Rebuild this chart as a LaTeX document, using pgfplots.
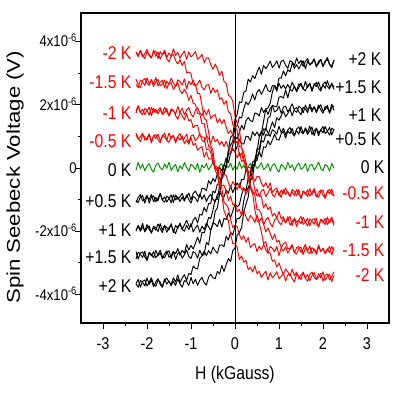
\documentclass[border=0pt]{standalone}
\usepackage{pgfplots}
\pgfplotsset{compat=1.18}
\usepackage{pgfplotstable}
\usepackage{fontspec}
\setmainfont{Liberation Sans}[FakeStretch=0.85]
\newfontfamily\ylabfont{Liberation Sans}[FakeStretch=1.2]
\definecolor{sred}{RGB}{255,0,0}
\definecolor{sgreen}{RGB}{0,150,0}
\newcommand\lab{\fontsize{18.5}{20}\selectfont}

% one row per sweep branch, values in units of 1e-6 V
\pgfplotstableread[header=false]{
x -2.25 -2.20 -2.15 -2.10 -2.05 -2.00 -1.95 -1.90 -1.85 -1.80 -1.75 -1.70 -1.65 -1.60 -1.55 -1.50 -1.45 -1.40 -1.35 -1.30 -1.25 -1.20 -1.15 -1.10 -1.05 -1.00 -0.95 -0.90 -0.85 -0.80 -0.75 -0.70 -0.65 -0.60 -0.55 -0.50 -0.45 -0.40 -0.35 -0.30 -0.25 -0.20 -0.15 -0.10 -0.05 0.00 0.05 0.10 0.15 0.20 0.25 0.30 0.35 0.40 0.45 0.50 0.55 0.60 0.65 0.70 0.75 0.80 0.85 0.90 0.95 1.00 1.05 1.10 1.15 1.20 1.25 1.30 1.35 1.40 1.45 1.50 1.55 1.60 1.65 1.70 1.75 1.80 1.85 1.90 1.95 2.00 2.05 2.10 2.15 2.20 2.25
R2a 3.65 3.52 3.72 3.57 3.46 3.67 3.60 3.48 3.73 3.53 3.67 3.44 3.58 3.65 3.45 3.35 3.54 3.59 3.40 3.29 3.43 3.24 3.37 3.01 3.03 2.99 2.62 2.65 2.36 2.35 1.97 1.58 1.51 1.14 0.70 0.55 -0.09 -0.20 -0.65 -0.84 -1.35 -1.53 -1.67 -2.11 -2.38 -2.40 -2.51 -2.89 -2.78 -2.98 -2.92 -3.22 -3.13 -3.29 -3.09 -3.34 -3.26 -3.46 -3.35 -3.26 -3.54 -3.31 -3.47 -3.39 -3.28 -3.50 -3.43 -3.33 -3.57 -3.38 -3.34 -3.50 -3.60 -3.36 -3.42 -3.53 -3.29 -3.47 -3.37 -3.56 -3.40 -3.31 -3.51 -3.46 -3.33 -3.58 -3.39 -3.35 -3.54 -3.43 -3.28
R2b 3.67 3.57 3.71 3.51 3.62 3.75 3.54 3.48 3.65 3.70 3.46 3.68 3.58 3.73 3.50 3.64 3.53 3.77 3.56 3.66 3.47 3.59 3.70 3.43 3.67 3.51 3.58 3.68 3.44 3.50 3.59 3.33 3.48 3.48 3.27 3.12 3.29 3.14 2.93 3.06 2.74 2.68 2.30 2.25 2.11 1.64 1.40 1.22 0.64 0.48 0.17 -0.37 -0.61 -0.79 -1.31 -1.66 -1.74 -2.02 -2.39 -2.33 -2.65 -2.69 -2.95 -2.91 -3.13 -3.00 -3.20 -3.36 -3.19 -3.28 -3.42 -3.20 -3.41 -3.29 -3.51 -3.37 -3.31 -3.49 -3.58 -3.36 -3.29 -3.46 -3.53 -3.34 -3.48 -3.28 -3.55 -3.43 -3.36 -3.59 -3.40
R15a 2.64 2.54 2.78 2.72 2.61 2.85 2.67 2.77 2.58 2.71 2.80 2.60 2.65 2.78 2.51 2.68 2.70 2.49 2.58 2.70 2.45 2.35 2.49 2.37 2.14 2.30 2.04 2.02 1.73 1.71 1.40 1.40 1.03 0.68 0.65 0.34 -0.05 -0.07 -0.53 -0.63 -1.08 -1.15 -1.27 -1.63 -1.88 -1.80 -1.85 -2.10 -2.26 -2.14 -2.35 -2.20 -2.51 -2.43 -2.39 -2.64 -2.47 -2.59 -2.41 -2.58 -2.70 -2.48 -2.54 -2.65 -2.48 -2.77 -2.53 -2.63 -2.49 -2.69 -2.58 -2.45 -2.66 -2.72 -2.55 -2.50 -2.74 -2.52 -2.62 -2.47 -2.70 -2.56 -2.67 -2.43 -2.64 -2.54 -2.71 -2.59 -2.48 -2.75 -2.51
R15b 2.81 2.63 2.54 2.76 2.83 2.68 2.61 2.80 2.66 2.86 2.59 2.71 2.78 2.55 2.74 2.64 2.84 2.69 2.57 2.79 2.73 2.62 2.82 2.50 2.74 2.64 2.78 2.58 2.67 2.78 2.55 2.47 2.62 2.64 2.36 2.54 2.39 2.47 2.17 2.22 2.01 2.13 1.78 1.72 1.37 1.29 1.18 0.67 0.67 0.27 0.08 -0.08 -0.56 -0.73 -0.85 -1.31 -1.32 -1.46 -1.78 -2.02 -1.90 -2.06 -2.26 -2.09 -2.34 -2.29 -2.52 -2.40 -2.34 -2.56 -2.53 -2.42 -2.69 -2.52 -2.48 -2.67 -2.56 -2.41 -2.65 -2.71 -2.52 -2.57 -2.73 -2.48 -2.64 -2.54 -2.69 -2.55 -2.68 -2.48 -2.63
R1a 1.73 1.97 1.76 1.86 1.69 1.81 1.92 1.65 1.89 1.75 1.83 1.91 1.69 1.76 1.88 1.64 1.81 1.83 1.66 1.54 1.75 1.66 1.52 1.72 1.49 1.53 1.27 1.35 1.35 1.04 0.98 0.97 0.58 0.61 0.49 0.13 0.06 0.03 -0.35 -0.57 -0.54 -0.73 -1.03 -0.89 -1.16 -1.15 -1.38 -1.31 -1.50 -1.35 -1.54 -1.68 -1.50 -1.58 -1.72 -1.48 -1.70 -1.58 -1.79 -1.64 -1.56 -1.74 -1.86 -1.64 -1.57 -1.72 -1.79 -1.60 -1.74 -1.54 -1.81 -1.69 -1.62 -1.85 -1.66 -1.76 -1.56 -1.71 -1.83 -1.61 -1.67 -1.78 -1.58 -1.87 -1.63 -1.73 -1.59 -1.79 -1.68 -1.55 -1.76
R1b 1.81 1.96 1.75 1.69 1.88 1.83 1.67 1.92 1.76 1.86 1.71 1.85 1.72 1.92 1.77 1.66 1.87 1.82 1.70 1.95 1.75 1.89 1.68 1.83 1.91 1.70 1.61 1.83 1.90 1.75 1.66 1.83 1.68 1.86 1.56 1.65 1.69 1.42 1.56 1.40 1.53 1.30 1.09 1.20 1.03 0.78 0.84 0.39 0.47 0.20 0.16 -0.22 -0.28 -0.31 -0.68 -0.88 -0.85 -0.91 -1.26 -1.13 -1.31 -1.23 -1.52 -1.43 -1.58 -1.37 -1.61 -1.54 -1.73 -1.62 -1.53 -1.82 -1.58 -1.72 -1.64 -1.53 -1.78 -1.71 -1.59 -1.83 -1.64 -1.60 -1.76 -1.86 -1.62 -1.68 -1.79 -1.55 -1.73 -1.63 -1.82
R05a 1.10 0.95 0.83 1.05 0.99 0.88 1.08 0.79 1.03 0.93 1.07 0.87 0.98 1.11 0.87 0.81 0.98 1.03 0.79 0.99 0.88 1.02 0.77 0.89 0.75 0.96 0.72 0.78 0.56 0.63 0.68 0.34 0.51 0.29 0.29 0.31 0.00 -0.02 0.01 -0.31 -0.20 -0.23 -0.46 -0.62 -0.43 -0.54 -0.69 -0.48 -0.69 -0.62 -0.83 -0.69 -0.61 -0.82 -0.79 -0.66 -0.91 -0.72 -0.68 -0.90 -0.79 -0.64 -0.85 -0.91 -0.72 -0.77 -0.93 -0.68 -0.84 -0.74 -0.89 -0.75 -0.88 -0.68 -0.83 -0.94 -0.73 -0.78 -0.90 -0.65 -0.85 -0.71 -0.92 -0.77 -0.69 -0.87 -0.96 -0.74 -0.67 -0.82 -0.89
R05b 1.05 0.91 0.99 1.10 0.88 0.95 1.07 0.83 1.02 1.06 0.90 0.80 1.04 0.98 0.87 1.11 0.93 1.03 0.84 1.00 1.09 0.89 0.94 1.07 0.82 1.01 1.05 0.86 0.94 1.09 0.88 0.82 1.01 0.94 0.77 1.01 0.83 0.91 0.73 0.84 0.68 0.84 0.64 0.48 0.63 0.51 0.32 0.49 0.21 0.26 -0.04 0.02 0.01 -0.25 -0.42 -0.27 -0.27 -0.48 -0.60 -0.46 -0.64 -0.47 -0.77 -0.68 -0.63 -0.88 -0.70 -0.81 -0.63 -0.78 -0.90 -0.68 -0.74 -0.88 -0.68 -0.97 -0.73 -0.83 -0.69 -0.89 -0.78 -0.65 -0.86 -0.92 -0.75 -0.70 -0.94 -0.72 -0.82 -0.67 -0.90
G -0.07 0.18 -0.02 0.12 -0.09 0.06 0.14 -0.04 -0.13 0.09 0.16 0.01 -0.06 0.13 -0.01 0.19 -0.08 0.04 0.11 -0.12 0.07 -0.03 0.17 0.02 -0.10 0.12 0.06 -0.05 0.15 -0.14 0.10 0.00 0.14 -0.06 0.05 0.18 -0.03 -0.09 0.08 0.13 -0.11 0.11 0.01 0.16 -0.07 0.07 -0.04 0.20 -0.01 0.09 -0.08 0.04 0.15 -0.12 0.12 -0.02 0.06 0.17 -0.05 0.02 0.14 -0.10 0.09 0.13 -0.03 -0.13 0.11 0.05 -0.06 0.18 0.00 0.10 -0.09 0.07 0.16 -0.04 0.01 0.14 -0.11 0.08 0.12 -0.07 0.04 0.19 -0.02 -0.08 0.11 0.06 -0.10 0.15 -0.01
B05a -1.03 -1.09 -0.92 -0.87 -1.11 -0.89 -0.99 -0.84 -1.07 -0.93 -1.04 -0.80 -1.01 -0.91 -1.08 -0.96 -0.85 -1.09 -0.85 -0.99 -0.91 -0.80 -1.00 -0.92 -0.79 -1.01 -0.80 -0.73 -0.86 -0.92 -0.64 -0.65 -0.71 -0.40 -0.51 -0.33 -0.43 -0.17 0.02 -0.08 0.08 0.32 0.17 0.46 0.60 0.50 0.69 0.91 0.77 0.76 1.00 0.99 0.87 1.15 1.02 1.14 1.01 1.16 1.04 1.26 1.11 1.00 1.21 1.16 1.07 1.32 1.12 1.26 1.05 1.20 1.28 1.10 1.01 1.23 1.30 1.15 1.08 1.27 1.13 1.33 1.06 1.18 1.25 1.02 1.21 1.11 1.31 1.16 1.04 1.26 1.20
B05b -1.09 -0.93 -0.84 -1.04 -0.99 -0.86 -1.11 -0.92 -0.88 -1.07 -0.96 -0.81 -1.02 -1.08 -0.89 -0.94 -1.10 -0.85 -1.01 -0.91 -1.06 -0.92 -1.05 -0.85 -1.00 -1.11 -0.90 -0.95 -1.07 -0.82 -0.99 -0.85 -1.06 -0.91 -0.83 -0.99 -1.07 -0.84 -0.75 -0.88 -0.92 -0.70 -0.80 -0.56 -0.78 -0.61 -0.47 -0.63 -0.36 -0.37 -0.07 -0.12 -0.14 0.19 0.24 0.23 0.53 0.34 0.67 0.65 0.86 0.73 0.89 1.07 0.90 0.88 1.08 1.16 0.94 1.18 1.09 1.25 1.04 1.18 1.07 1.31 1.10 1.23 1.06 1.18 1.29 1.02 1.26 1.12 1.20 1.31 1.09 1.16 1.28 1.04 1.23
B1a -2.00 -1.81 -1.95 -1.75 -2.02 -1.90 -1.83 -2.06 -1.87 -1.97 -1.77 -1.92 -2.04 -1.82 -1.88 -1.96 -1.76 -2.05 -1.81 -1.91 -1.74 -1.93 -1.80 -1.65 -1.83 -1.86 -1.65 -1.56 -1.74 -1.46 -1.49 -1.25 -1.38 -1.13 -1.11 -0.73 -0.78 -0.51 -0.51 -0.20 0.10 0.02 0.45 0.48 0.73 1.00 0.92 1.12 1.35 1.21 1.49 1.60 1.50 1.46 1.74 1.72 1.64 1.91 1.75 1.87 1.69 1.88 1.97 1.77 1.82 1.95 1.73 1.92 1.96 1.77 1.88 2.03 1.82 1.76 1.95 1.90 1.74 1.99 1.83 1.93 1.78 1.92 1.79 1.99 1.84 1.73 1.94 1.89 1.77 2.02 1.82
B1b -1.95 -1.85 -2.00 -1.86 -1.99 -1.79 -1.94 -2.05 -1.84 -1.89 -2.01 -1.76 -1.96 -1.82 -2.03 -1.88 -1.80 -1.98 -2.07 -1.85 -1.78 -1.93 -2.00 -1.81 -1.95 -1.75 -2.02 -1.90 -1.80 -2.03 -1.84 -1.94 -1.74 -1.86 -1.97 -1.73 -1.77 -1.85 -1.62 -1.87 -1.59 -1.63 -1.43 -1.56 -1.36 -1.13 -1.23 -1.16 -0.85 -0.64 -0.71 -0.32 -0.23 0.11 0.07 0.40 0.46 0.87 0.82 1.06 1.02 1.25 1.46 1.28 1.59 1.51 1.65 1.80 1.62 1.72 1.87 1.65 1.86 1.91 1.78 1.68 1.92 1.86 1.75 2.02 1.84 1.94 1.75 1.91 2.00 1.80 1.85 1.98 1.73 1.92 1.96
B15a -2.88 -2.66 -2.72 -2.83 -2.63 -2.92 -2.68 -2.78 -2.64 -2.84 -2.73 -2.60 -2.81 -2.84 -2.67 -2.62 -2.86 -2.64 -2.71 -2.55 -2.76 -2.60 -2.69 -2.42 -2.59 -2.45 -2.56 -2.38 -2.19 -2.38 -2.03 -2.05 -1.83 -1.56 -1.60 -1.33 -0.99 -0.99 -0.55 -0.25 -0.14 0.03 0.53 0.72 0.85 1.31 1.33 1.61 1.58 1.88 2.09 2.00 2.13 2.34 2.15 2.40 2.48 2.33 2.47 2.64 2.45 2.41 2.61 2.59 2.43 2.68 2.52 2.62 2.50 2.64 2.51 2.71 2.56 2.45 2.66 2.61 2.49 2.74 2.54 2.68 2.47 2.62 2.70 2.52 2.43 2.65 2.72 2.57 2.50 2.69 2.55
B15b -2.64 -2.88 -2.69 -2.65 -2.81 -2.91 -2.67 -2.73 -2.84 -2.60 -2.78 -2.68 -2.87 -2.71 -2.62 -2.82 -2.77 -2.64 -2.89 -2.70 -2.66 -2.85 -2.74 -2.59 -2.80 -2.86 -2.64 -2.69 -2.85 -2.60 -2.76 -2.63 -2.77 -2.61 -2.72 -2.50 -2.62 -2.69 -2.44 -2.43 -2.49 -2.16 -2.28 -2.03 -2.12 -1.83 -1.59 -1.59 -1.48 -1.04 -0.73 -0.63 -0.44 0.02 0.15 0.61 0.59 0.95 1.24 1.21 1.58 1.64 1.98 1.95 1.94 2.24 2.26 2.21 2.47 2.22 2.50 2.43 2.59 2.41 2.54 2.68 2.50 2.44 2.61 2.66 2.42 2.67 2.57 2.72 2.49 2.63 2.52 2.76 2.55 2.65 2.48
B2a -3.66 -3.77 -3.56 -3.61 -3.73 -3.48 -3.68 -3.54 -3.75 -3.60 -3.50 -3.68 -3.77 -3.55 -3.48 -3.61 -3.67 -3.47 -3.60 -3.38 -3.62 -3.48 -3.37 -3.56 -3.33 -3.37 -3.10 -3.17 -3.19 -2.85 -2.78 -2.73 -2.35 -2.43 -1.95 -1.79 -1.37 -1.26 -0.82 -0.35 -0.21 0.08 0.59 0.97 1.04 1.54 1.70 2.09 2.07 2.39 2.44 2.81 2.72 2.92 2.83 3.02 3.19 2.96 3.24 3.14 3.24 3.38 3.18 3.26 3.39 3.16 3.37 3.41 3.25 3.15 3.39 3.35 3.24 3.48 3.30 3.40 3.21 3.37 3.46 3.26 3.31 3.44 3.19 3.38 3.42 3.23 3.34 3.49 3.28 3.22 3.41
B2b -3.65 -3.52 -3.77 -3.58 -3.54 -3.73 -3.62 -3.47 -3.68 -3.74 -3.55 -3.60 -3.76 -3.51 -3.67 -3.57 -3.72 -3.58 -3.71 -3.51 -3.66 -3.77 -3.56 -3.59 -3.71 -3.46 -3.66 -3.52 -3.71 -3.55 -3.46 -3.63 -3.70 -3.45 -3.36 -3.47 -3.50 -3.27 -3.35 -3.08 -3.27 -3.05 -2.86 -2.96 -2.61 -2.53 -2.12 -2.03 -1.89 -1.39 -1.14 -0.92 -0.38 -0.32 0.27 0.51 0.98 1.09 1.48 1.87 1.90 2.05 2.40 2.61 2.50 2.84 2.84 3.07 2.91 3.11 3.04 3.32 3.15 3.27 3.13 3.27 3.39 3.13 3.38 3.26 3.34 3.45 3.23 3.30 3.44 3.20 3.39 3.43 3.27 3.17 3.41
}\raw
\pgfplotstabletranspose[colnames from=0]{\data}{\raw}

\begin{document}
\begin{tikzpicture}
\path[use as bounding box] (-81pt,-71pt) rectangle (334pt,323pt);
\begin{axis}[
  at={(0pt,0pt)}, anchor=south west,
  scale only axis, width=308pt, height=310pt,
  xmin=-3.5, xmax=3.5, ymin=-4.9, ymax=4.9,
  xtick={-3,-2,-1,0,1,2,3},
  xticklabels={-3,-2,-1,0,1,2,3},
  minor x tick num=1,
  ytick={-4,-2,0,2,4},
  yticklabels={{-4x10\textsuperscript{-6}},{-2x10\textsuperscript{-6}},0,{2x10\textsuperscript{-6}},{4x10\textsuperscript{-6}}},
  minor y tick num=1,
  tick align=outside,
  tick pos=left,
  major tick length=5.5pt, minor tick length=3pt,
  every tick/.style={black, line width=0.9pt},
  axis line style={line width=1.1pt},
  xticklabel style={font=\fontsize{17}{17}\selectfont, anchor=north, inner sep=0pt, yshift=-9pt},
  yticklabel style={font=\fontsize{15.5}{15.5}\selectfont, anchor=base east, inner sep=0pt, yshift=-5.5pt, xshift=1.5pt},
  xlabel={H (kGauss)},
  ylabel={Spin Seebeck Voltage (V)},
  xlabel style={font=\lab, at={(axis description cs:0.5,-0.168)}, anchor=center},
  ylabel style={font=\ylabfont\fontsize{18.5}{20}\selectfont, at={(axis description cs:-0.214,0.47)}, anchor=center},
  every axis plot/.append style={line width=0.95pt, line join=round},
]
\addplot[sgreen] table[x=x, y=G]{\data};
\addplot[black] table[x=x, y=B05a]{\data};
\addplot[black] table[x=x, y=B05b]{\data};
\addplot[black] table[x=x, y=B1a]{\data};
\addplot[black] table[x=x, y=B1b]{\data};
\addplot[black] table[x=x, y=B15a]{\data};
\addplot[black] table[x=x, y=B15b]{\data};
\addplot[black] table[x=x, y=B2a]{\data};
\addplot[black] table[x=x, y=B2b]{\data};
\addplot[sred] table[x=x, y=R05a]{\data};
\addplot[sred] table[x=x, y=R05b]{\data};
\addplot[sred] table[x=x, y=R1a]{\data};
\addplot[sred] table[x=x, y=R1b]{\data};
\addplot[sred] table[x=x, y=R15a]{\data};
\addplot[sred] table[x=x, y=R15b]{\data};
\addplot[sred] table[x=x, y=R2a]{\data};
\addplot[sred] table[x=x, y=R2b]{\data};
\addplot[black, line width=0.8pt] coordinates {(0,-4.9) (0,4.9)};

\node[anchor=east, inner sep=0pt, text=sred, font=\lab] at (axis cs:-2.35,3.65) {-2 K};
\node[anchor=east, inner sep=0pt, text=sred, font=\lab] at (axis cs:-2.35,2.71) {-1.5 K};
\node[anchor=east, inner sep=0pt, text=sred, font=\lab] at (axis cs:-2.35,1.74) {-1 K};
\node[anchor=east, inner sep=0pt, text=sred, font=\lab] at (axis cs:-2.35,0.85) {-0.5 K};
\node[anchor=east, inner sep=0pt, text=black, font=\lab] at (axis cs:-2.35,-0.08) {0 K};
\node[anchor=east, inner sep=0pt, text=black, font=\lab] at (axis cs:-2.35,-1.05) {+0.5 K};
\node[anchor=east, inner sep=0pt, text=black, font=\lab] at (axis cs:-2.35,-1.97) {+1 K};
\node[anchor=east, inner sep=0pt, text=black, font=\lab] at (axis cs:-2.35,-2.83) {+1.5 K};
\node[anchor=east, inner sep=0pt, text=black, font=\lab] at (axis cs:-2.35,-3.73) {+2 K};

\node[anchor=east, inner sep=0pt, text=black, font=\lab] at (axis cs:3.33,3.44) {+2 K};
\node[anchor=east, inner sep=0pt, text=black, font=\lab] at (axis cs:3.33,2.55) {+1.5 K};
\node[anchor=east, inner sep=0pt, text=black, font=\lab] at (axis cs:3.33,1.66) {+1 K};
\node[anchor=east, inner sep=0pt, text=black, font=\lab] at (axis cs:3.33,0.90) {+0.5 K};
\node[anchor=east, inner sep=0pt, text=black, font=\lab] at (axis cs:3.40,0.03) {0 K};
\node[anchor=east, inner sep=0pt, text=sred, font=\lab] at (axis cs:3.40,-0.81) {-0.5 K};
\node[anchor=east, inner sep=0pt, text=sred, font=\lab] at (axis cs:3.40,-1.71) {-1 K};
\node[anchor=east, inner sep=0pt, text=sred, font=\lab] at (axis cs:3.40,-2.60) {-1.5 K};
\node[anchor=east, inner sep=0pt, text=sred, font=\lab] at (axis cs:3.40,-3.39) {-2 K};
\end{axis}
\end{tikzpicture}
\end{document}
